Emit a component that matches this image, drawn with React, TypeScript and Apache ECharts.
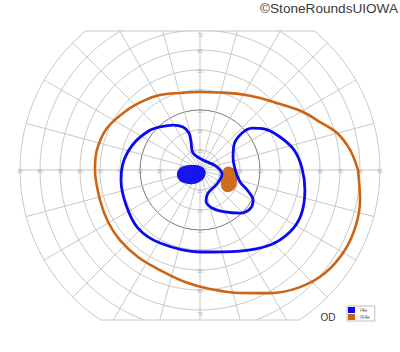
import React, { useEffect, useRef } from "react";
import * as echarts from "echarts";

// Tick labels drawn along the meridians (degrees of eccentricity)
const hTicks = [10, 20, 30, 40, 50, 60, 70, 80, 90];
const vTicks = [10, 20, 30, 40, 50, 60, 70];

// Isopters as [eccentricity (deg), meridian (deg)]
const isopterIII4e: number[][] = [
  [79, 0], [75.7, 7.6], [71, 15.1], [64.6, 21.8], [59.1, 29.4], [51.9, 39.5],
  [46.9, 50.2], [42.9, 62.2], [40, 75.5], [39, 90], [39.8, 104.6], [42.5, 118.1],
  [44.5, 128.2], [47.2, 140.6], [51, 155.7], [52.5, 169], [52.5, 180], [52.2, 196.7],
  [52.8, 209.5], [53.2, 221.2], [53.4, 234.5], [53.9, 248.2], [56.5, 262.4],
  [59.7, 274.8], [64.7, 288], [70.8, 299.6], [77, 310.5], [81, 320.5], [82.8, 331.1],
  [82.7, 340.6], [81.4, 349.4],
];

const isopterI4e: number[][] = [
  [32, 141.3], [29.4, 132.9], [26.2, 121], [23.1, 111.6], [19.3, 106.6], [14.7, 107.8],
  [9.2, 112.4], [5.2, 73.3], [8.2, 14], [11.2, 349.7], [11, 320.5], [12.2, 289.2],
  [15.8, 281], [19.9, 287.5], [24.4, 300.8], [29.4, 312.9], [31.7, 322], [30.5, 330.5],
  [26.2, 336.4], [20.9, 343.3], [18, 356.8], [17.6, 20], [21.1, 36.3], [27.3, 41.3],
  [33.4, 38.9], [38.4, 32.2], [43.3, 22.4], [48.1, 12], [51, 1.1], [53.4, 349.2],
  [55.3, 336], [54.6, 325.4], [51.3, 313], [45.2, 296.3], [41, 270], [41.6, 241.3],
  [42.5, 223.1], [40.9, 205.3], [39.8, 187.2], [38.3, 172.5], [35.4, 156.7],
];

const scotomaI4e: number[][] = [
  [11.8, 192.3], [10.5, 177.3], [8.2, 166], [4.7, 148], [2, 90], [2.5, 0],
  [3.9, 309.8], [5.5, 275.2], [7.8, 243.4], [10.3, 219.1], [11.6, 205.5],
];

const blindSpotIII4e: number[][] = [
  [13.1, 6.6], [16.5, 3.5], [18.6, 355.4], [19.3, 343.4], [19.7, 332.8],
  [18.2, 322.8], [15.2, 319], [12.3, 328.2], [11.2, 349.7],
];

const BLUE = "#0a0af0";
const ORANGE = "#cc6414";
const GRID = "#c8c8c8";
const FONT = "Liberation Sans, Arial, sans-serif";

export default function App() {
  const ref = useRef<HTMLDivElement>(null);
  useEffect(() => {
    const chart = echarts.init(ref.current!, null, { renderer: "svg" });
    const cx = 200, cy = 170, R = 180;
    const topY = 31, botY = 320;
    const half = (y: number) => Math.sqrt(Math.max(0, R * R - (y - cy) * (y - cy)));

    const tickPts: any[] = [];
    hTicks.forEach((t) => { tickPts.push([t, 0]); tickPts.push([t, 180]); });
    vTicks.forEach((t) => {
      const last = t === vTicks[vTicks.length - 1];
      tickPts.push(last ? { value: [t, 90], label: { offset: [0, 5] } } : [t, 90]);
      tickPts.push(last ? { value: [t, 270], label: { offset: [0, 4] } } : [t, 270]);
    });

    const closed = (a: number[][]) => [...a, a[0]];
    const blob = (name: string, pts: number[][], color: string) => ({
      type: "custom",
      name,
      coordinateSystem: "polar",
      data: pts,
      silent: true,
      z: 3,
      itemStyle: { color },
      renderItem: (params: any, api: any) => {
        if (params.dataIndex !== 0) return null;
        return {
          type: "polygon",
          shape: { points: pts.map((p) => api.coord(p)), smooth: 0.45 },
          style: { fill: color, opacity: 0.95 },
        };
      },
    });

    const ringColors = hTicks.map(() => GRID);
    ringColors.unshift(GRID);
    ringColors[3] = "#7a7a7a";

    chart.setOption({
      animation: false,
      polar: { center: [cx, cy], radius: R },
      radiusAxis: {
        type: "value", min: 0, max: 90, interval: 10,
        axisLine: { show: false }, axisTick: { show: false }, axisLabel: { show: false },
        splitLine: { show: true, lineStyle: { color: ringColors, width: 1 } },
      },
      angleAxis: {
        type: "value", min: 0, max: 360, interval: 15, startAngle: 0, clockwise: false,
        axisLine: { show: false }, axisTick: { show: false }, axisLabel: { show: false },
        splitLine: { show: true, lineStyle: { color: GRID, width: 1 } },
      },
      legend: {
        data: [{ name: "I4e", icon: "rect" }, { name: "III4e", icon: "rect" }],
        orient: "vertical", left: 347, top: 306,
        itemWidth: 7, itemHeight: 6, itemGap: 1,
        padding: [1, 5, 1, 1],
        borderColor: "#b0b0b0", borderWidth: 0.8, backgroundColor: "#fff",
        textStyle: { fontSize: 5, color: "#555", fontFamily: FONT },
        selectedMode: false, z: 110,
      },
      series: [
        {
          type: "scatter", coordinateSystem: "polar", data: tickPts, symbolSize: 0,
          silent: true, z: 1,
          label: {
            show: true, position: "inside", offset: [0, 1],
            formatter: (p: any) => String(p.value[0]),
            fontSize: 5, color: "#999", fontFamily: FONT,
          },
        },
        blob("III4e", blindSpotIII4e, ORANGE),
        blob("I4e", scotomaI4e, BLUE),
        {
          type: "line", name: "III4e", coordinateSystem: "polar", data: closed(isopterIII4e),
          smooth: 0.35, showSymbol: false, silent: true, z: 4,
          itemStyle: { color: ORANGE }, lineStyle: { color: ORANGE, width: 2.6 },
        },
        {
          type: "line", name: "I4e", coordinateSystem: "polar", data: closed(isopterI4e),
          smooth: 0.35, showSymbol: false, silent: true, z: 5,
          itemStyle: { color: BLUE }, lineStyle: { color: BLUE, width: 2.8 },
        },
      ],
      graphic: [
        { type: "rect", silent: true, z: 100, shape: { x: 0, y: 0, width: 400, height: topY - 0.5 }, style: { fill: "#fff" } },
        { type: "rect", silent: true, z: 100, shape: { x: 0, y: botY + 0.5, width: 400, height: 352 - botY }, style: { fill: "#fff" } },
        { type: "line", silent: true, z: 101, shape: { x1: cx - half(topY), y1: topY, x2: cx + half(topY), y2: topY }, style: { stroke: GRID, lineWidth: 1 } },
        { type: "line", silent: true, z: 101, shape: { x1: cx - half(botY), y1: botY, x2: cx + half(botY), y2: botY }, style: { stroke: GRID, lineWidth: 1 } },
        {
          type: "text", silent: true, z: 102, x: 398, y: 8,
          style: { text: "©StoneRoundsUIOWA", align: "right", verticalAlign: "middle", textAlign: "right", textVerticalAlign: "middle", fontSize: 13.6, fontFamily: FONT, fill: "#3a3a3a" },
        },
        {
          type: "text", silent: true, z: 102, x: 328, y: 317,
          style: { text: "OD", align: "center", verticalAlign: "middle", textAlign: "center", textVerticalAlign: "middle", fontSize: 10, fontFamily: FONT, fill: "#333" },
        },
      ],
    });
    return () => chart.dispose();
  }, []);
  return <div ref={ref} style={{ position: "absolute", left: 0, top: 0, width: 400, height: 352 }} />;
}
